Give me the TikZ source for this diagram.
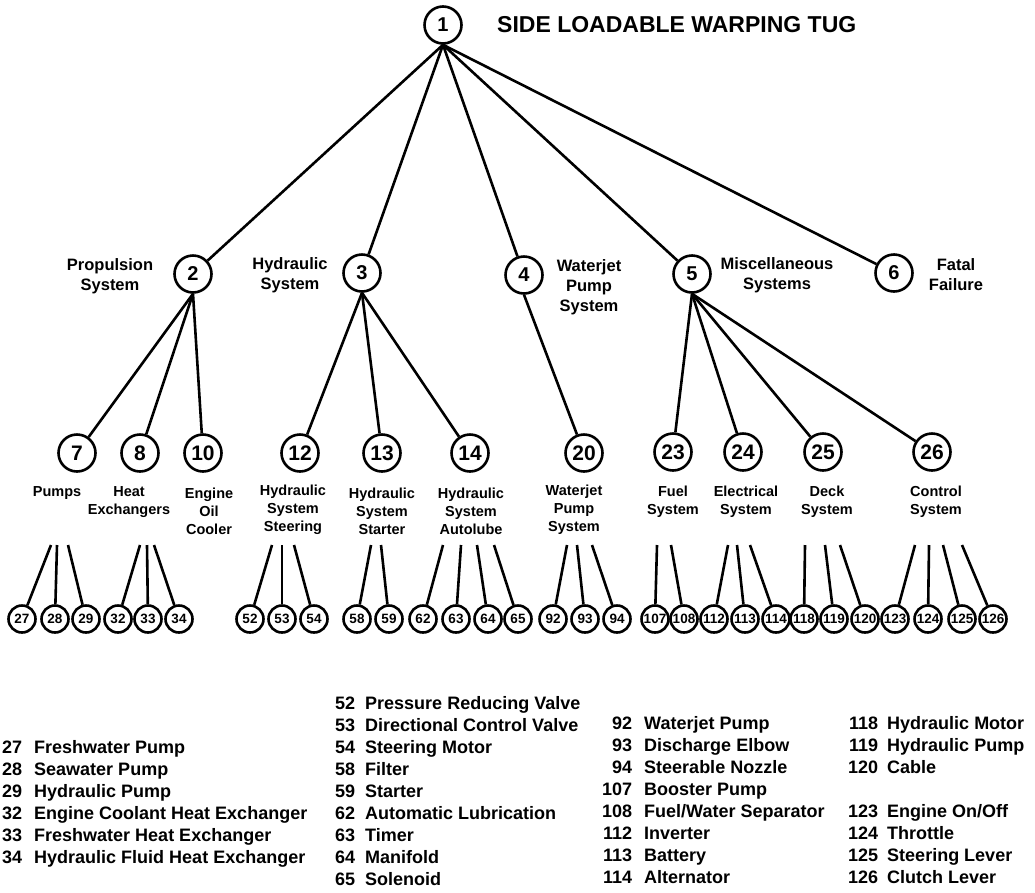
\documentclass[tikz,border=0pt]{standalone}
\usepackage{fontspec}
\setmainfont{Liberation Sans}
\usepackage{tikz}

\begin{document}
\begin{tikzpicture}[x=1pt,y=-1pt]
            \tikzstyle{every node}=[font=\bfseries]
            \tikzstyle{bignode}=[draw,circle,line width=2.6pt,minimum size=37pt,inner sep=0pt,font=\fontsize{20}{20}\selectfont\bfseries]
            \tikzstyle{midnode}=[bignode,font=\fontsize{21}{21}\selectfont\bfseries]
            \tikzstyle{leafnode}=[draw,circle,line width=2.6pt,minimum size=27pt,inner sep=0pt,font=\fontsize{13.5}{13.5}\selectfont\bfseries]
            \tikzstyle{link}=[line width=2.6pt]
            \tikzstyle{toplabel}=[align=center,inner sep=0pt,font=\fontsize{16.5}{20}\selectfont\bfseries]
            \tikzstyle{sublabel}=[align=center,inner sep=0pt,font=\fontsize{14.5}{18}\selectfont\bfseries]
            \tikzstyle{legend}=[anchor=base west,inner sep=0pt,font=\fontsize{18}{22}\selectfont\bfseries]
            \useasboundingbox (0,0) rectangle (1035,892);
            % top
            \node [bignode] (n1) at (443,25) {1};
            \node [anchor=west,inner sep=0pt,font=\fontsize{23}{23}\selectfont\bfseries] (title) at (497,25) {SIDE LOADABLE WARPING TUG};
            % second row
            \node [bignode] (n2) at (193,274) {2};
            \node [bignode] (n3) at (362,273) {3};
            \node [bignode] (n4) at (524,275) {4};
            \node [bignode] (n5) at (692,274) {5};
            \node [bignode] (n6) at (894,273) {6};
            \node [toplabel] (l2) at (110,276) {Propulsion\\System};
            \node [toplabel] (l3) at (290,275) {Hydraulic\\System};
            \node [toplabel] (l4) at (589,287) {Waterjet\\Pump\\System};
            \node [toplabel] (l5) at (777,275) {Miscellaneous\\Systems};
            \node [toplabel] (l6) at (956,275) {Fatal\\Failure};
            \foreach \k in {2,...,6}
                \draw [link] (n1.south) -- (n\k);
            % third row
            \node [midnode] (n7) at (77,453) {7};
            \node [midnode] (n8) at (140,453) {8};
            \node [midnode] (n10) at (203,453) {10};
            \node [midnode] (n12) at (300,453) {12};
            \node [midnode] (n13) at (382,453) {13};
            \node [midnode] (n14) at (470,453) {14};
            \node [midnode] (n20) at (584,453) {20};
            \node [midnode] (n23) at (673,452) {23};
            \node [midnode] (n24) at (743,452) {24};
            \node [midnode] (n25) at (823,452) {25};
            \node [midnode] (n26) at (932,452) {26};
            \foreach \p/\c in {2/7,2/8,2/10,3/12,3/13,3/14,4/20,5/23,5/24,5/25,5/26}
                \draw [link] (n\p.south) -- (n\c);
            \node [sublabel] (l7) at (57,493) {Pumps};
            \node [sublabel] (l8) at (129,502) {Heat\\Exchangers};
            \node [sublabel] (l10) at (209,511) {Engine\\Oil\\Cooler};
            \node [sublabel] (l12) at (293,510) {Hydraulic\\System\\Steering};
            \node [sublabel] (l13) at (382,511) {Hydraulic\\System\\Starter};
            \node [sublabel] (l14) at (471,511) {Hydraulic\\System\\Autolube};
            \node [sublabel] (l20) at (574,510) {Waterjet\\Pump\\System};
            \node [sublabel] (l23) at (673,502) {Fuel\\System};
            \node [sublabel] (l24) at (746,502) {Electrical\\System};
            \node [sublabel] (l25) at (827,502) {Deck\\System};
            \node [sublabel] (l26) at (936,502) {Control\\System};
            % leaves
            \foreach \num/\x/\sx in {27/22/51,28/55/57,29/86/68,32/118/140,33/148/147,34/179/154,
                                     52/250/272,53/282/282,54/314/294,58/357/371,59/389/381,
                                     62/423/443,63/456/461,64/488/477,65/518/494,
                                     92/553/567,93/585/577,94/617/592,107/655/657,108/684/671,
                                     112/714/728,113/745/737,114/776/750,118/804/805,119/834/825,120/865/840,
                                     123/895/915,124/928/929,125/962/943,126/993/962}{
                \coordinate (s\num) at (\sx,545);
                \node [leafnode] (n\num) at (\x,619) {\num};
                \draw [link] (s\num) -- (n\num);
            }
            % legend
            \node [legend] (key1) at (2,753) {\begin{tabular}[t]{@{}r@{\hspace{12pt}}l@{}}
                27 & Freshwater Pump\\ 28 & Seawater Pump\\ 29 & Hydraulic Pump\\
                32 & Engine Coolant Heat Exchanger\\ 33 & Freshwater Heat Exchanger\\
                34 & Hydraulic Fluid Heat Exchanger\end{tabular}};
            \node [legend] (key2) at (335,709) {\begin{tabular}[t]{@{}r@{\hspace{10pt}}l@{}}
                52 & Pressure Reducing Valve\\ 53 & Directional Control Valve\\ 54 & Steering Motor\\
                58 & Filter\\ 59 & Starter\\ 62 & Automatic Lubrication\\ 63 & Timer\\
                64 & Manifold\\ 65 & Solenoid\end{tabular}};
            \node [legend] (key3) at (602,729) {\begin{tabular}[t]{@{}r@{\hspace{12pt}}l@{}}
                92 & Waterjet Pump\\ 93 & Discharge Elbow\\ 94 & Steerable Nozzle\\
                107 & Booster Pump\\ 108 & Fuel/Water Separator\\ 112 & Inverter\\
                113 & Battery\\ 114 & Alternator\end{tabular}};
            \node [legend] (key4) at (848,729) {\begin{tabular}[t]{@{}r@{\hspace{9pt}}l@{}}
                118 & Hydraulic Motor\\ 119 & Hydraulic Pump\\ 120 & Cable\\ & \\
                123 & Engine On/Off\\ 124 & Throttle\\ 125 & Steering Lever\\
                126 & Clutch Lever\end{tabular}};
        \end{tikzpicture}
\end{document}
